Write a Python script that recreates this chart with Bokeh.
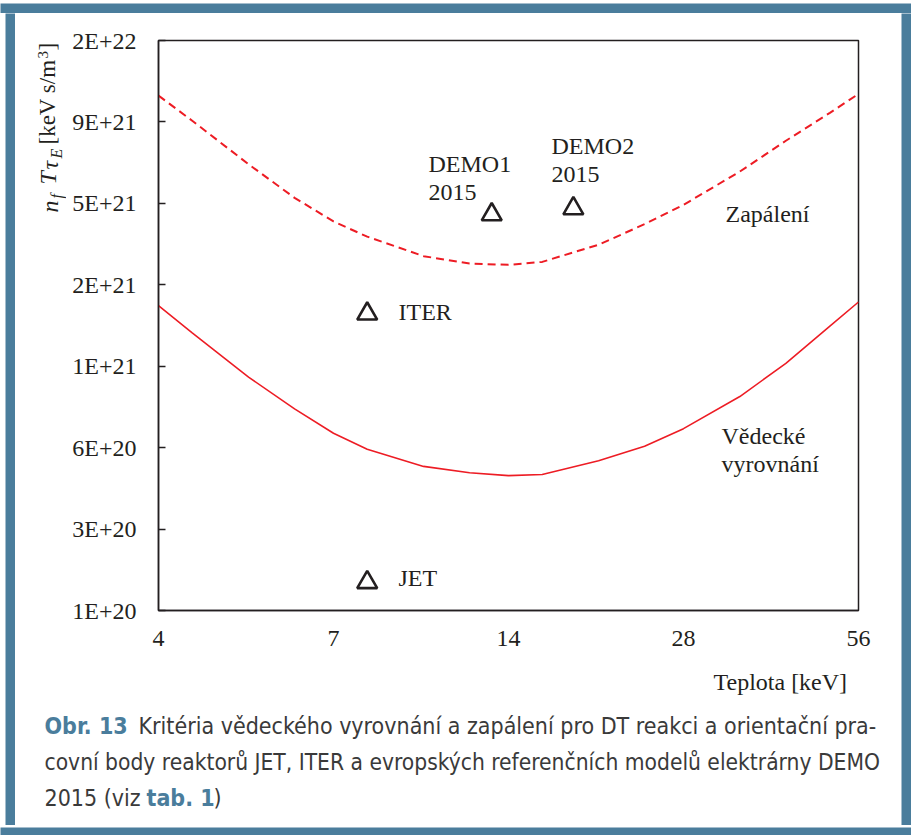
import math
from bokeh.plotting import figure
from bokeh.layouts import column, row
from bokeh.models import Label, FixedTicker, Range1d
from bokeh.embed import file_html
from bokeh.resources import INLINE

# ---------------- data ----------------
temperature_keV = [3.5, 4, 5, 6, 7, 8, 10, 12, 14, 16, 20, 24, 28, 35, 42, 50, 56]
breakeven = [1.93e21, 1.53e21, 1.05e21, 8.01e20, 6.51e20, 5.68e20, 4.91e20, 4.65e20,
             4.54e20, 4.58e20, 5.15e20, 5.83e20, 6.77e20, 8.90e20, 1.18e21, 1.62e21, 1.99e21]
ignition = [1.153e22, 9.31e21, 6.43e21, 4.83e21, 3.95e21, 3.47e21, 2.94e21, 2.76e21,
            2.73e21, 2.80e21, 3.24e21, 3.86e21, 4.55e21, 6.04e21, 7.85e21, 9.96e21, 1.17e22]

point_names = ["JET", "ITER", "DEMO1 2015", "DEMO2 2015"]
point_T = [8.0, 8.0, 13.1, 18.1]
point_value = [1.83e20, 1.80e21, 4.19e21, 4.41e21]

x_ticks = [3.5, 7, 14, 28, 56]
x_tick_labels = ["4", "7", "14", "28", "56"]
Y0 = 1.44e20
y_ticks = [Y0 * 2 ** k for k in range(8)]
y_tick_labels = ["1E+20", "3E+20", "6E+20", "1E+21", "2E+21", "5E+21", "9E+21", "2E+22"]

# ---------------- styling ----------------
INK = "#231f20"
RED = "#ed1c24"
BLUE = "#4a7d9c"
CAPTION_INK = "#3a3a3a"
SERIF = "Liberation Serif"
CAPFONT = "'Liberation Sans Narrow', 'DejaVu Sans Condensed', Roboto"

# page geometry
PAGE_W, PAGE_H = 911, 835
PAD_L, PAD_T = 5, 2                          # white margin outside the blue frame
RING_L, RING_T, RING_R, RING_B = 10, 11, 10, 10
INNER_X0, INNER_Y0 = PAD_L + RING_L, PAD_T + RING_T      # 15, 13
INNER_W = PAGE_W - INNER_X0 - RING_R         # 886
INNER_H = PAGE_H - INNER_Y0 - RING_B         # 812
YT_W = 51                                    # y-title strip
CHART_X0 = INNER_X0 + YT_W                   # 66
CHART_W = INNER_W - YT_W
CHART_H = 649
CAP_H = INNER_H - CHART_H
FRAME_L, FRAME_T, FRAME_R, FRAME_B = 158, 40, 858, 610


def blank(w, h, fill):
    f = figure(width=w, height=h, output_backend="svg", toolbar_location=None,
               x_axis_location=None, y_axis_location=None, min_border=0,
               x_range=Range1d(0, 1), y_range=Range1d(0, 1))
    f.outline_line_color = None
    f.background_fill_color = fill
    f.border_fill_color = fill
    f.grid.visible = False
    return f


def put(fig, origin, text, ax, ay, size="24px", font=SERIF, color=INK, style="normal", angle=0.0):
    """(ax, ay): page position of the text anchor; origin = page position of the frame's bottom-left"""
    ox, oy = origin
    fig.add_layout(Label(x=ax - ox, y=oy - ay, x_units="screen", y_units="screen", text=text,
                         text_font=font, text_font_size=size, text_color=color,
                         text_font_style=style, text_align="left", text_baseline="middle",
                         angle=angle))


# ---------------- main chart ----------------
p = figure(width=CHART_W, height=CHART_H, output_backend="svg", toolbar_location=None,
           x_axis_type="log", y_axis_type="log",
           x_range=Range1d(x_ticks[0], x_ticks[-1]), y_range=Range1d(y_ticks[0], y_ticks[-1]),
           min_border_left=FRAME_L - CHART_X0, min_border_right=CHART_X0 + CHART_W - FRAME_R,
           min_border_top=FRAME_T - INNER_Y0, min_border_bottom=INNER_Y0 + CHART_H - FRAME_B)
p.background_fill_color = "white"
p.border_fill_color = "white"
p.xgrid.visible = False
p.ygrid.visible = False
p.outline_line_color = INK
p.outline_line_width = 1.5

p.xaxis.ticker = FixedTicker(ticks=x_ticks, minor_ticks=[])
p.xaxis.major_label_overrides = {t: l for t, l in zip(x_ticks, x_tick_labels)}
p.yaxis.ticker = FixedTicker(ticks=y_ticks, minor_ticks=[])
p.yaxis.major_label_overrides = {t: l for t, l in zip(y_ticks, y_tick_labels)}
for ax in (p.xaxis, p.yaxis):
    ax.axis_line_color = INK
    ax.axis_line_width = 1.5
    ax.major_tick_line_color = INK
    ax.major_tick_line_width = 1.5
    ax.minor_tick_line_color = None
    ax.major_label_text_font = SERIF
    ax.major_label_text_font_size = "24px"
    ax.major_label_text_color = INK
p.xaxis.major_tick_in = 0
p.xaxis.major_tick_out = 0
p.xaxis.major_label_standoff = 20
p.yaxis.major_tick_in = 7
p.yaxis.major_tick_out = 0
p.yaxis.major_label_standoff = 22

p.line(temperature_keV, breakeven, line_color=RED, line_width=1.6)
p.line(temperature_keV, ignition, line_color=RED, line_width=2, line_dash="8 5")
p.scatter(point_T, point_value, marker="triangle", size=20, fill_color=None,
          line_color=INK, line_width=2.6)

# labels: y = vertical centre of the text line on the page
O = (FRAME_L, FRAME_B)
put(p, O, "DEMO1", 428, 163)
put(p, O, "2015", 428, 192)
put(p, O, "DEMO2", 551, 145)
put(p, O, "2015", 551, 174)
put(p, O, "ITER", 398, 311)
put(p, O, "JET", 398, 577)
put(p, O, "Zapálení", 725, 213)
put(p, O, "Vědecké", 721, 435)
put(p, O, "vyrovnání", 721, 463)

# ---------------- y-axis title strip ----------------
# (its plot frame is aligned with the chart frame, so it spans page y 40..610)
yt = blank(YT_W, CHART_H, "white")
OY = (INNER_X0, FRAME_B)
R = math.pi / 2
put(yt, OY, "n", 49, 212, style="italic", angle=R)
put(yt, OY, "f", 56, 198, size="16px", style="italic", angle=R)
put(yt, OY, "T", 47, 184, style="italic", angle=R)
put(yt, OY, "τ", 49, 169, style="italic", angle=R)
put(yt, OY, "E", 56, 158, size="16px", style="italic", angle=R)
put(yt, OY, "[keV s/m", 47, 144, size="23px", angle=R)
put(yt, OY, "3", 42, 58, size="15px", angle=R)
put(yt, OY, "]", 47, 50, size="23px", angle=R)

# ---------------- caption strip (with x-axis title) ----------------
cap = blank(INNER_W, CAP_H, "white")
OC = (INNER_X0, INNER_Y0 + INNER_H)
put(cap, OC, "Teplota [keV]", 713, 681)
put(cap, OC, "Obr. 13", 44, 725, size="23px", font=CAPFONT, color=BLUE, style="bold")
put(cap, OC, "Kritéria vědeckého vyrovnání a zapálení pro DT reakci a orientační pra-", 138, 725,
    size="23px", font=CAPFONT, color=CAPTION_INK)
put(cap, OC, "covní body reaktorů JET, ITER a evropských referenčních modelů elektrárny DEMO", 44, 761,
    size="22.6px", font=CAPFONT, color=CAPTION_INK)
put(cap, OC, "2015 (viz", 44, 797, size="23px", font=CAPFONT, color=CAPTION_INK)
put(cap, OC, "tab. 1", 146, 797, size="23px", font=CAPFONT, color=BLUE, style="bold")
put(cap, OC, ")", 213, 797, size="23px", font=CAPFONT, color=CAPTION_INK)

# ---------------- blue frame around everything ----------------
inner = column(row(yt, p), cap)
page = column(
    blank(PAGE_W, PAD_T, "white"),
    blank(PAGE_W, RING_T, BLUE),
    row(blank(PAD_L, INNER_H, "white"), blank(RING_L, INNER_H, BLUE), inner,
        blank(RING_R, INNER_H, BLUE)),
    blank(PAGE_W, RING_B, BLUE),
)

open("out.html", "w").write(file_html(page, INLINE))
